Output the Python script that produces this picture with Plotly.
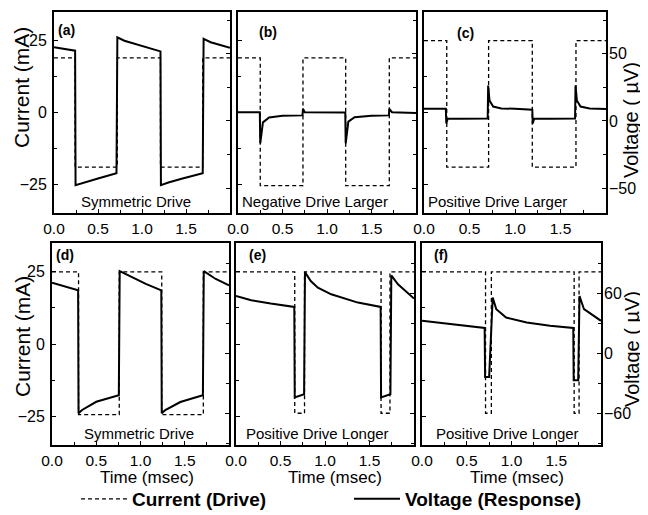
import plotly.graph_objects as go

W, H = 648, 515

# ---------------- data ----------------
# time axis (msec)
x_tick_vals = [0.0, 0.5, 1.0, 1.5]

# Current (drive) step waveforms: switching times and levels (mA)
t_cur_a = [0.00, 0.24, 0.72, 1.21, 1.69, 2.00]
i_cur_a = [19, -19, 19, -19, 19, 19]
t_cur_b = [0.00, 0.25, 0.73, 1.21, 1.70, 2.00]
i_cur_b = [19, -25.5, 19, -25.5, 19, 19]
t_cur_c = [0.00, 0.25, 0.71, 1.19, 1.67, 2.00]
i_cur_c = [25, -19, 25, -19, 25, 25]
t_cur_d = [0.00, 0.30, 0.76, 1.24, 1.71, 2.00]
i_cur_d = [25, -24.5, 25, -24.5, 25, 25]
t_cur_e = [0.00, 0.66, 0.77, 1.63, 1.73, 2.00]
i_cur_e = [25, -24, 25, -24, 25, 25]
t_cur_f = [0.00, 0.71, 0.775, 1.70, 1.755, 2.00]
i_cur_f = [25, -24, 25, -24, 25, 25]

# Voltage (response) traces (microvolts)
t_vol_a = [0.00, 0.10, 0.24, 0.245, 0.35, 0.50, 0.71, 0.72, 0.80, 1.00, 1.21,
           1.215, 1.30, 1.45, 1.69, 1.70, 1.78, 2.00]
v_vol_a = [54.7, 53.8, 52.2, -47.8, -45.6, -42.8, -38.9, 62.1, 59.6, 56.0, 51.7,
           -47.8, -45.8, -43.0, -38.9, 61.1, 58.5, 54.4]
t_vol_b = [0.00, 0.245, 0.25, 0.28, 0.35, 0.50, 0.725, 0.73, 0.75, 1.205, 1.21,
           1.24, 1.31, 1.50, 1.695, 1.70, 1.73, 2.00]
v_vol_b = [6.5, 6.5, -16.7, -1.1, 2.6, 3.8, 4.1, 9.0, 6.5, 6.3, -16.7,
           -0.5, 2.8, 3.8, 4.1, 9.0, 6.5, 5.8]
t_vol_c = [0.00, 0.24, 0.245, 0.26, 0.40, 0.70, 0.705, 0.72, 0.76, 0.85, 1.00,
           1.19, 1.195, 1.21, 1.40, 1.66, 1.665, 1.68, 1.72, 1.82, 2.00]
v_vol_c = [9.0, 9.0, -1.9, 1.6, 1.6, 1.8, 26.3, 15.2, 10.7, 9.3, 9.0,
           8.3, -1.9, 1.6, 1.6, 1.8, 26.3, 15.2, 10.7, 9.3, 8.9]
t_vol_d = [0.00, 0.15, 0.295, 0.30, 0.34, 0.50, 0.755, 0.765, 0.91, 1.06, 1.235,
           1.24, 1.28, 1.45, 1.705, 1.715, 1.85, 2.00]
v_vol_d = [70.2, 66.5, 62.7, -60.3, -57.0, -48.8, -42.2, 81.8, 75.2, 69.2, 62.7,
           -60.3, -57.0, -49.0, -42.2, 81.8, 74.0, 67.7]
t_vol_e = [0.00, 0.17, 0.39, 0.655, 0.66, 0.765, 0.775, 0.84, 0.92, 1.07, 1.37,
           1.625, 1.63, 1.735, 1.745, 1.82, 2.00]
v_vol_e = [57.0, 52.8, 49.4, 46.1, -44.4, -41.2, 80.9, 71.9, 65.3, 58.7, 50.4,
           46.1, -44.4, -41.2, 77.6, 68.7, 54.4]
t_vol_f = [0.00, 0.31, 0.70, 0.705, 0.75, 0.79, 0.83, 0.94, 1.17, 1.43, 1.69,
           1.695, 1.745, 1.76, 1.81, 2.00]
v_vol_f = [32.2, 29.0, 25.0, -24.0, -24.0, 55.4, 43.8, 35.5, 30.6, 27.3, 25.0,
           -27.3, -27.3, 57.0, 43.8, 32.2]

panel_letters = ["(a)", "(b)", "(c)", "(d)", "(e)", "(f)"]
panel_captions = ["Symmetric Drive", "Negative Drive Larger", "Positive Drive Larger",
                  "Symmetric Drive", "Positive Drive Longer", "Positive Drive Longer"]

current_title = "Current (mA)"
voltage_title = "Voltage ( µV)"
time_title = "Time (msec)"
legend_names = ["Current (Drive)", "Voltage (Response)"]

# ---------------- layout geometry (pixels in the page) ----------------
FONT = "Liberation Sans, Arial, Helvetica, sans-serif"
OFF = 8  # page body margin around the figure
boxes = [  # (left, right, top, bottom)
    (54, 230, 12, 213), (238, 416, 12, 213), (424, 606, 12, 213),
    (52, 229, 243, 445), (236, 414, 243, 445), (422, 601, 243, 445),
]
cur_range = [-35, 35]
vol_ranges = [[-68.5, 81], [-92, 110]]
vol_dticks = [50, 60]
letter_pos = [(56, 30), (257, 32), (455, 33), (54, 255), (247, 255), (432, 255)]
caption_pos = [(136, 201), (315, 201), (497, 201), (139, 433), (317, 433), (507, 433)]
time_title_pos = [(147, 477), (335, 477), (517, 477)]

cur_data = [(t_cur_a, i_cur_a), (t_cur_b, i_cur_b), (t_cur_c, i_cur_c),
            (t_cur_d, i_cur_d), (t_cur_e, i_cur_e), (t_cur_f, i_cur_f)]
vol_data = [(t_vol_a, v_vol_a), (t_vol_b, v_vol_b), (t_vol_c, v_vol_c),
            (t_vol_d, v_vol_d), (t_vol_e, v_vol_e), (t_vol_f, v_vol_f)]


def fx(px):
    return (px - OFF) / W


def fy(py):
    return 1 - (py - OFF) / H


fig = go.Figure()
layout = dict(
    width=W, height=H,
    margin=dict(l=0, r=0, t=0, b=0, autoexpand=False),
    paper_bgcolor="white", plot_bgcolor="rgba(0,0,0,0)",
    font=dict(family=FONT, color="black", size=16),
    showlegend=True,
    legend=dict(orientation="h", x=fx(76), xanchor="left", y=fy(499), yanchor="middle",
                font=dict(family=FONT, size=19, weight="bold", color="black"),
                itemwidth=46, entrywidth=212, bgcolor="rgba(0,0,0,0)",
                tracegroupgap=0),
)
annotations = []

for k in range(6):
    L, R, T, B = boxes[k]
    row = 0 if k < 3 else 1
    xn = k + 1
    yc = 2 * k + 1
    yv = 2 * k + 2
    xs = "" if xn == 1 else str(xn)
    ycs = "" if yc == 1 else str(yc)

    layout["xaxis" + xs] = dict(
        domain=[fx(L), fx(R)], range=[0, 2.0], anchor="y" + ycs, automargin=False,
        tickmode="array", tickvals=x_tick_vals, tickformat=".1f",
        ticks="inside", ticklen=4, tickwidth=1.2, tickcolor="black",
        minor=dict(tickmode="linear", tick0=0, dtick=0.25, ticks="inside",
                   ticklen=3, tickcolor="black"),
        showline=True, linewidth=2, linecolor="black", mirror=True,
        showgrid=False, zeroline=False,
        tickfont=dict(size=15.5, family=FONT),
    )
    layout["yaxis" + ycs] = dict(
        domain=[fy(B), fy(T)], range=cur_range, anchor="x" + xs, automargin=False,
        tick0=0, dtick=25, ticks="inside", ticklen=4, tickwidth=1.2, tickcolor="black",
        minor=dict(dtick=12.5, ticks="inside", ticklen=3, tickcolor="black"),
        showticklabels=(k % 3 == 0), ticklabelstandoff=2,
        showline=True, linewidth=2, linecolor="black", mirror=True,
        showgrid=False, zeroline=False,
        tickfont=dict(size=16, family=FONT),
    )
    layout["yaxis" + str(yv)] = dict(
        domain=[fy(B), fy(T)], range=vol_ranges[row], anchor="x" + xs, automargin=False,
        overlaying="y" + ycs, side="right",
        tick0=0, dtick=vol_dticks[row], ticks="inside", ticklen=4, tickwidth=1.2,
        tickcolor="black",
        minor=dict(dtick=vol_dticks[row] / 2, ticks="inside", ticklen=3, tickcolor="black"),
        showticklabels=(k % 3 == 2), ticklabelstandoff=2,
        showline=False, showgrid=False, zeroline=False,
        tickfont=dict(size=16, family=FONT),
    )

    tc, ic = cur_data[k]
    fig.add_trace(go.Scatter(
        x=tc, y=ic, mode="lines", line=dict(color="black", width=1.3, dash="4px,3px", shape="hv"),
        name=legend_names[0], legendgroup="cur", showlegend=(k == 0),
        xaxis="x" + xs, yaxis="y" + ycs, hoverinfo="skip"))
    tv, vv = vol_data[k]
    fig.add_trace(go.Scatter(
        x=tv, y=vv, mode="lines", line=dict(color="black", width=2),
        name=legend_names[1], legendgroup="vol", showlegend=(k == 0),
        xaxis="x" + xs, yaxis="y" + str(yv), hoverinfo="skip"))

    lx, ly = letter_pos[k]
    annotations.append(dict(text=panel_letters[k], x=fx(lx), y=fy(ly), xref="paper", yref="paper",
                            xanchor="left", yanchor="middle", showarrow=False,
                            font=dict(size=14, family=FONT, weight="bold")))
    cx, cy = caption_pos[k]
    annotations.append(dict(text=panel_captions[k], x=fx(cx), y=fy(cy), xref="paper", yref="paper",
                            xanchor="center", yanchor="middle", showarrow=False,
                            font=dict(size=15, family=FONT)))

# axis titles
for (px, py) in time_title_pos:
    annotations.append(dict(text=time_title, x=fx(px), y=fy(py), xref="paper", yref="paper",
                            xanchor="center", yanchor="middle", showarrow=False,
                            font=dict(size=17, family=FONT)))
for (px, py) in [(22, 88), (22, 337)]:
    annotations.append(dict(text=current_title, x=fx(px), y=fy(py), xref="paper", yref="paper",
                            xanchor="center", yanchor="middle", textangle=-90, showarrow=False,
                            font=dict(size=21, family=FONT)))
for (px, py) in [(631, 120), (632, 349)]:
    annotations.append(dict(text=voltage_title, x=fx(px), y=fy(py), xref="paper", yref="paper",
                            xanchor="center", yanchor="middle", textangle=-90, showarrow=False,
                            font=dict(size=20, family=FONT)))

layout["annotations"] = annotations
fig.update_layout(**layout)
fig.write_html("out.html", config={"displayModeBar": False})
